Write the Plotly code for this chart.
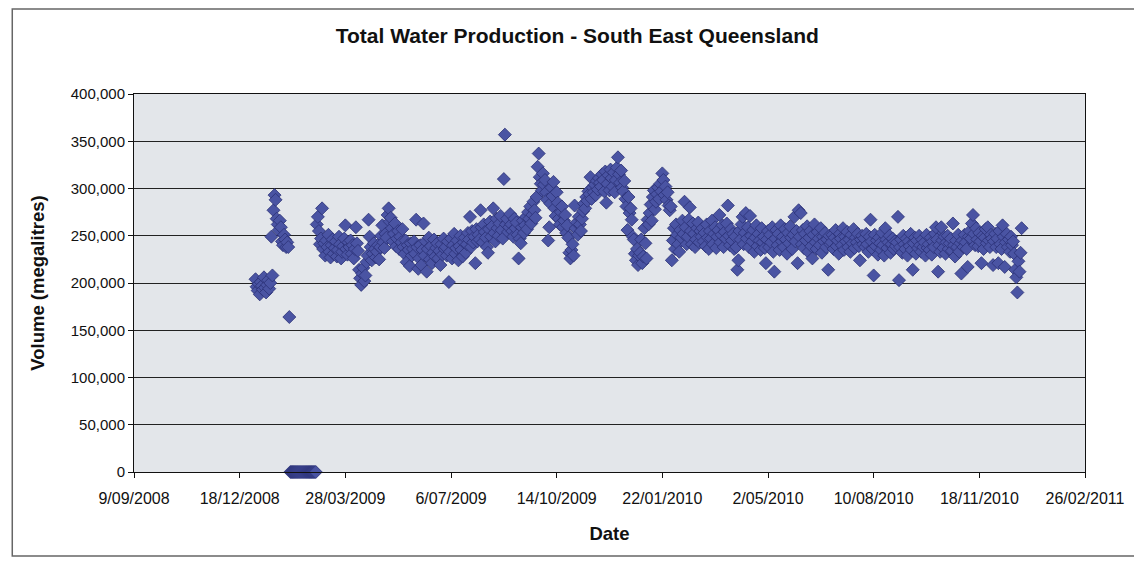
import pandas as pd
import plotly.graph_objects as go

# Daily total water production, thousands of megalitres
jan09 = [204, 196, 192, 199, 188, 201, 197, 193, 206, 195, 190, 198, 203, 194, 200,
         249, 208, 277, 293, 288, 268, 262, 256, 266, 259, 244, 240, 251, 246, 238]
feb09 = [243, 238, 164, 0, 0, 0, 0, 0, 0, 0, 0, 0, 0, 0, 0, 0, 0, 0, 0, 0, 0, 0, 0, 0, 0, 0, 0, 0]
mar09 = [262, 270, 255, 241, 247, 279, 236, 242, 229, 245, 238, 251, 233, 227, 240, 246, 231, 237, 244, 228,
         235, 249, 241, 226, 233, 239, 247, 261, 236, 230, 243]
apr09 = [238, 245, 231, 240, 226, 236, 259, 242, 234, 214, 205, 198, 210, 216, 202, 208, 222, 229, 267, 249,
         238, 224, 231, 242, 236, 227, 233, 240, 225, 238]
may09 = [250, 261, 243, 237, 252, 248, 272, 279, 265, 269, 258, 244, 252, 263, 239, 247, 255, 236, 249, 243,
         257, 238, 231, 245, 222, 240, 235, 218, 242, 229, 236]
jun09 = [244, 231, 267, 238, 215, 226, 240, 219, 235, 263, 229, 244, 212, 236, 248, 225, 239, 221, 232, 246,
         228, 237, 242, 226, 234, 219, 241, 230, 247, 236]
jul09 = [238, 229, 244, 201, 233, 247, 226, 240, 252, 231, 237, 245, 224, 239, 250, 235, 228, 243, 248, 232,
         241, 253, 246, 270, 238, 255, 243, 249, 221, 257, 244]
aug09 = [251, 246, 277, 259, 243, 262, 254, 248, 238, 232, 257, 265, 249, 260, 279, 253, 244, 268, 258, 250,
         263, 271, 256, 247, 310, 357, 262, 268, 254, 259, 273]
sep09 = [262, 255, 249, 268, 258, 264, 251, 226, 247, 242, 259, 266, 253, 261, 270, 257, 275, 268, 281, 263,
         272, 286, 277, 269, 291, 323, 337, 312, 305, 298]
oct09 = [316, 304, 309, 296, 288, 245, 259, 284, 301, 292, 307, 279, 271, 296, 285, 268, 262, 275, 281, 259,
         266, 272, 253, 261, 248, 232, 226, 235, 241, 229, 282]
nov09 = [258, 264, 251, 270, 262, 255, 268, 276, 284, 279, 291, 287, 297, 294, 312, 289, 301, 296, 304, 293,
         308, 299, 311, 306, 302, 315, 309, 297, 318, 285]
dec09 = [305, 314, 298, 320, 311, 302, 317, 296, 309, 322, 333, 315, 306, 319, 301, 297, 308, 289, 281, 256,
         291, 274, 279, 267, 249, 246, 231, 224, 236, 219, 229]
jan10 = [232, 246, 221, 228, 258, 242, 226, 267, 262, 274, 283, 266, 291, 298, 278, 286, 294, 301, 289, 305,
         297, 316, 309, 293, 302, 288, 296, 282, 277, 281, 224]
feb10 = [245, 258, 236, 262, 251, 241, 233, 256, 248, 266, 252, 286, 259, 241, 249, 267, 280, 255, 241, 263,
         252, 238, 246, 258, 264, 243, 255, 249]
mar10 = [258, 244, 253, 239, 262, 248, 236, 255, 247, 266, 241, 252, 259, 237, 249, 256, 272, 243, 251, 261,
         238, 254, 247, 263, 282, 250, 240, 257, 245, 252, 236]
apr10 = [249, 238, 214, 224, 255, 246, 262, 270, 241, 253, 274, 247, 259, 238, 271, 250, 244, 256, 233, 248,
         261, 239, 252, 245, 235, 258, 243, 249, 237, 221]
may10 = [246, 255, 238, 251, 243, 259, 233, 212, 247, 256, 240, 252, 235, 261, 244, 249, 238, 257, 246, 231,
         253, 242, 260, 248, 236, 251, 270, 244, 255, 221, 277]
jun10 = [249, 274, 241, 256, 237, 252, 245, 260, 233, 248, 255, 239, 226, 251, 262, 243, 236, 254, 247, 240,
         258, 232, 249, 244, 253, 238, 246, 214, 250, 241]
jul10 = [243, 251, 236, 248, 256, 239, 245, 231, 252, 247, 240, 258, 235, 249, 244, 254, 238, 246, 233, 251,
         242, 257, 237, 248, 243, 252, 239, 224, 246, 250, 241]
aug10 = [247, 238, 252, 241, 233, 249, 267, 244, 236, 208, 251, 239, 245, 230, 248, 242, 235, 253, 240, 229,
         258, 246, 237, 243, 250, 232, 241, 247, 236, 244, 239]
sep10 = [243, 270, 203, 238, 246, 232, 250, 241, 236, 247, 229, 244, 239, 252, 235, 214, 242, 248, 231, 245,
         237, 250, 240, 233, 246, 238, 243, 229, 251, 237]
oct10 = [241, 235, 248, 230, 244, 238, 252, 259, 246, 212, 240, 233, 259, 245, 237, 249, 231, 243, 250, 236,
         242, 247, 234, 263, 240, 228, 245, 238, 251, 233, 242]
nov10 = [210, 245, 238, 251, 243, 236, 217, 249, 255, 247, 263, 272, 252, 240, 258, 246, 239, 253, 244, 221,
         250, 236, 248, 257, 242, 259, 245, 238, 251, 247]
dec10 = [219, 244, 252, 238, 247, 221, 255, 241, 236, 261, 249, 217, 243, 252, 238, 246, 233, 249, 240, 244,
         231, 214, 206, 190, 223, 212, 232, 258]

month_starts = ["2009-01-02", "2009-02-01", "2009-03-01", "2009-04-01", "2009-05-01", "2009-06-01",
                "2009-07-01", "2009-08-01", "2009-09-01", "2009-10-01", "2009-11-01", "2009-12-01",
                "2010-01-01", "2010-02-01", "2010-03-01", "2010-04-01", "2010-05-01", "2010-06-01",
                "2010-07-01", "2010-08-01", "2010-09-01", "2010-10-01", "2010-11-01", "2010-12-01"]
month_values = [jan09, feb09, mar09, apr09, may09, jun09, jul09, aug09, sep09, oct09, nov09, dec09,
                jan10, feb10, mar10, apr10, may10, jun10, jul10, aug10, sep10, oct10, nov10, dec10]

dates = []
volumes = []
for start, vals in zip(month_starts, month_values):
    dates.extend(pd.date_range(start, periods=len(vals), freq="D"))
    volumes.extend(v * 1000 for v in vals)

FONT = "Arial, Liberation Sans, sans-serif"
INK = "#111111"

fig = go.Figure()
fig.add_trace(go.Scatter(
    x=dates, y=volumes, mode="markers", cliponaxis=False,
    marker=dict(symbol="diamond", size=10, color="#4a54a3",
                line=dict(color="#2b3176", width=0.8)),
    showlegend=False,
))

# the page body adds an 8px margin, so the figure is 8px smaller and margins shifted
fig.update_layout(
    width=1134, height=554,
    margin=dict(l=126, r=57, t=86, b=90, autoexpand=False),
    paper_bgcolor="white", plot_bgcolor="#e3e6ea",
    font=dict(family=FONT, color=INK, size=15),
    title=dict(text="<b>Total Water Production - South East Queensland</b>",
               x=0.502, xref="container", xanchor="center",
               y=0.95, yref="container", yanchor="middle",
               font=dict(family=FONT, size=21, color=INK)),
    shapes=[dict(type="rect", xref="paper", yref="paper",
                 x0=-0.128, x1=1.053, y0=-0.222, y1=1.225,
                 line=dict(color="#666666", width=1.5), fillcolor="rgba(0,0,0,0)", layer="below")],
)

fig.update_xaxes(
    type="date", range=["2008-09-09", "2011-02-26"],
    tick0="2008-09-09", dtick=100 * 86400000, tickformat="%-d/%m/%Y",
    showgrid=False, showline=True, linecolor=INK, linewidth=1, mirror=True,
    ticks="outside", ticklen=5, tickcolor=INK, ticklabelstandoff=7,
    tickfont=dict(size=16, family=FONT, color=INK),
    title=dict(text="<b>Date</b>", font=dict(size=18.5, family=FONT, color=INK), standoff=20),
)
fig.update_yaxes(
    range=[0, 400000], dtick=50000, tickformat=",",
    showgrid=True, gridcolor="#222222", gridwidth=1,
    showline=True, linecolor=INK, linewidth=1, mirror=True,
    ticks="outside", ticklen=5, tickcolor=INK, zeroline=False,
    tickfont=dict(size=15, family=FONT, color=INK),
    title=dict(text="<b>Volume (megalitres)</b>", font=dict(size=18.5, family=FONT, color=INK), standoff=21),
)

fig.write_html("out.html")
